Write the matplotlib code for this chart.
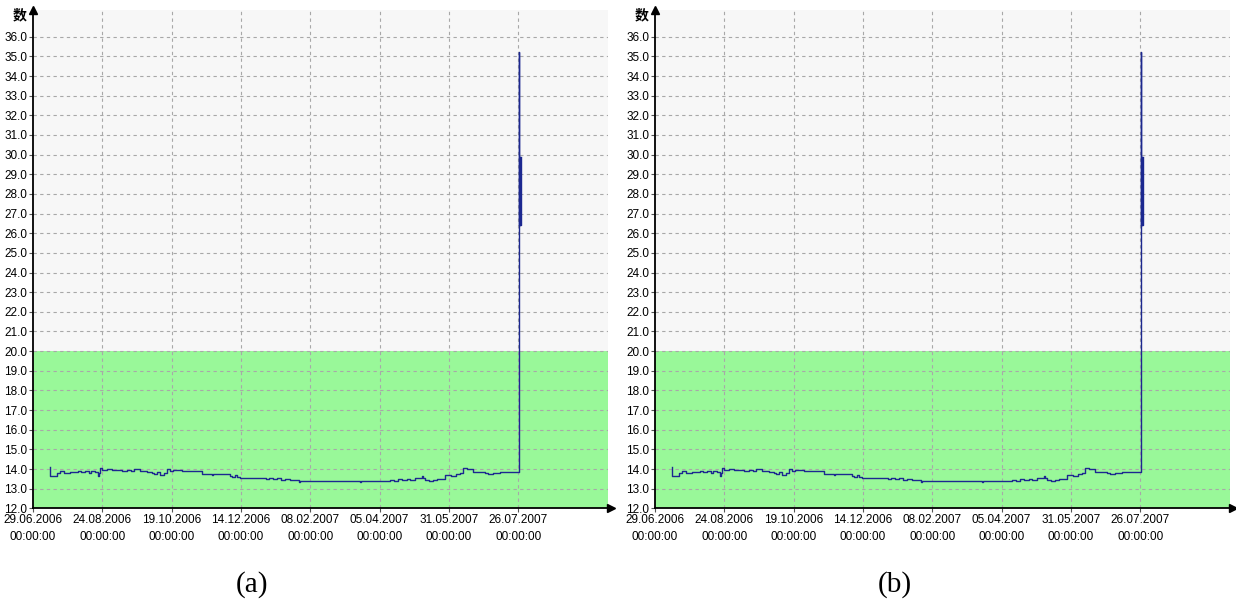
import matplotlib
matplotlib.use("Agg")
import matplotlib.pyplot as plt

plt.rcParams['font.family'] = ['Liberation Sans', 'Noto Sans CJK SC', 'DejaVu Sans']

# days since 29.06.2006 and readings (both panels show the same record)
days = [13.7, 13.9, 19.4, 22, 25, 29.9, 33, 36, 39, 42, 45, 47, 50, 52.5, 53.6,
        54.1, 56, 60, 64, 68, 72, 76, 79, 82, 86.5, 92.1, 96, 98, 100, 103, 106,
        108, 110.7, 113.1, 120, 136.6, 144.4, 145.2, 159.2, 161, 163, 165, 167.3,
        175, 185.9, 188, 191, 194, 197, 200, 204, 207.7, 215, 216, 264, 265,
        288.5, 292, 295, 298, 302, 305, 308.7, 314, 315, 316.8, 320, 323, 326.5,
        332.9, 338, 342, 345.1, 347.5, 350.7, 355.6, 365.3, 368, 372, 377.4,
        393, 393.05, 393.75, 393.8, 393.85, 393.9, 393.95]
values = [14.1, 13.63, 13.82, 13.88, 13.82, 13.87, 13.84, 13.9, 13.85, 13.88, 13.8,
          13.9, 13.86, 13.66, 13.8, 14.03, 13.95, 13.98, 13.93, 13.97, 13.92,
          13.96, 13.9, 13.98, 13.88, 13.83, 13.8, 13.74, 13.85, 13.72, 13.8,
          13.98, 13.9, 13.93, 13.92, 13.76, 13.68, 13.76, 13.66, 13.6, 13.68,
          13.58, 13.53, 13.53, 13.55, 13.5, 13.56, 13.48, 13.52, 13.46, 13.5,
          13.42, 13.32, 13.41, 13.36, 13.41, 13.46, 13.41, 13.48, 13.42, 13.5,
          13.44, 13.56, 13.62, 13.56, 13.44, 13.4, 13.46, 13.49, 13.71, 13.66,
          13.74, 13.78, 14.07, 13.98, 13.85, 13.81, 13.76, 13.82, 13.85,
          35.2, 26.4, 29.9, 26.5, 29.8, 26.4, 29.9]

tick_days = [0, 56, 112, 168, 224, 280, 336, 392]
tick_labels = ['29.06.2006', '24.08.2006', '19.10.2006', '14.12.2006',
               '08.02.2007', '05.04.2007', '31.05.2007', '26.07.2007']
tick_time = '00:00:00'
y_ticks = list(range(12, 37))
green_top = 20
panel_names = ['(a)', '(b)']

fig = plt.figure(figsize=(12.36, 6.03), dpi=100)

def draw_panel(left, name, cap_x):
    ax = fig.add_axes([left, 0.157, 0.4652, 0.8264])
    ax.set_facecolor('#f7f7f7')
    ax.axhspan(12, green_top, color='#99f899', zorder=0, lw=0)
    ax.set_xlim(0, 464.6)
    ax.set_ylim(12, 37.36)
    for d in tick_days[1:]:
        ax.axvline(d, color='#a8a8a8', lw=0.8, ls=(0, (3, 3)), zorder=1)
    for v in y_ticks[1:]:
        ax.axhline(v, color='#a8a8a8', lw=0.8, ls=(0, (3, 3)), zorder=1)
    ax.plot(days, values, drawstyle='steps-post', color='#1c2890', lw=1.0, zorder=3)

    ax.set_yticks(y_ticks)
    ax.set_yticklabels(['%.1f' % v for v in y_ticks], fontsize=8.5)
    ax.set_xticks(tick_days)
    ax.set_xticklabels([t + '\n' + tick_time for t in tick_labels], fontsize=8.5,
                       linespacing=1.6)
    ax.tick_params(axis='both', length=3, width=0.8, color='#555555', pad=1)
    for s in ['top', 'right']:
        ax.spines[s].set_visible(False)
    ax.spines['left'].set_linewidth(1.3)
    ax.spines['bottom'].set_linewidth(1.3)
    # axis arrows
    ax.plot(0, 1.0, marker='^', color='black', markersize=6,
            transform=ax.transAxes, clip_on=False, zorder=5)
    ax.plot(1.006, 0, marker='>', color='black', markersize=6,
            transform=ax.transAxes, clip_on=False, zorder=5)
    ax.text(-0.012, 0.99, '数', transform=ax.transAxes, ha='right', va='center',
            fontsize=10, fontweight='bold', family=['Noto Sans CJK SC'])
    fig.text(cap_x, 0.03, name, ha='center', va='center', fontsize=21,
             family='Liberation Serif')
    return ax

draw_panel(33 / 1236, panel_names[0], 252 / 1236)
draw_panel(655 / 1236, panel_names[1], 895 / 1236)

fig.savefig('out.png', dpi=100)
